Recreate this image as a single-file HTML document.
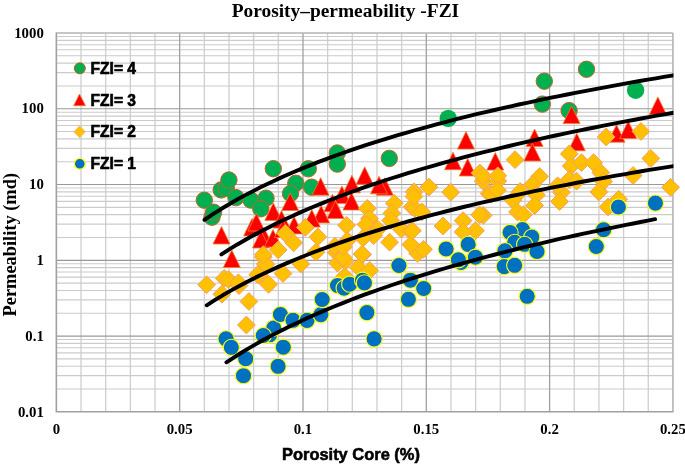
<!DOCTYPE html>
<html><head><meta charset="utf-8"><style>
html,body{margin:0;padding:0;background:#fff;width:685px;height:466px;overflow:hidden}
svg{display:block;will-change:transform}
.tk{font-family:"Liberation Serif",serif;font-weight:bold;font-size:14.8px;fill:#000}
.ttl{font-family:"Liberation Serif",serif;font-weight:bold;font-size:19.4px;fill:#000}
.xt{font-family:"Liberation Sans",sans-serif;font-weight:bold;font-size:16.45px;fill:#000;stroke:#000;stroke-width:0.55px}
.yt{font-family:"Liberation Serif",serif;font-weight:bold;font-size:18.4px;fill:#000}
.lg{font-family:"Liberation Sans",sans-serif;font-weight:bold;font-size:15.6px;fill:#000;stroke:#000;stroke-width:0.6px}
</style></head><body>
<svg width="685" height="466" viewBox="0 0 685 466">
<rect width="685" height="466" fill="#fff"/>
<line x1="81.01" y1="33.00" x2="81.01" y2="411.80" stroke="#cfcfcf" stroke-width="1.3"/>
<line x1="105.68" y1="33.00" x2="105.68" y2="411.80" stroke="#cfcfcf" stroke-width="1.3"/>
<line x1="130.34" y1="33.00" x2="130.34" y2="411.80" stroke="#cfcfcf" stroke-width="1.3"/>
<line x1="155.00" y1="33.00" x2="155.00" y2="411.80" stroke="#cfcfcf" stroke-width="1.3"/>
<line x1="204.33" y1="33.00" x2="204.33" y2="411.80" stroke="#cfcfcf" stroke-width="1.3"/>
<line x1="228.99" y1="33.00" x2="228.99" y2="411.80" stroke="#cfcfcf" stroke-width="1.3"/>
<line x1="253.65" y1="33.00" x2="253.65" y2="411.80" stroke="#cfcfcf" stroke-width="1.3"/>
<line x1="278.32" y1="33.00" x2="278.32" y2="411.80" stroke="#cfcfcf" stroke-width="1.3"/>
<line x1="327.64" y1="33.00" x2="327.64" y2="411.80" stroke="#cfcfcf" stroke-width="1.3"/>
<line x1="352.31" y1="33.00" x2="352.31" y2="411.80" stroke="#cfcfcf" stroke-width="1.3"/>
<line x1="376.97" y1="33.00" x2="376.97" y2="411.80" stroke="#cfcfcf" stroke-width="1.3"/>
<line x1="401.63" y1="33.00" x2="401.63" y2="411.80" stroke="#cfcfcf" stroke-width="1.3"/>
<line x1="450.96" y1="33.00" x2="450.96" y2="411.80" stroke="#cfcfcf" stroke-width="1.3"/>
<line x1="475.62" y1="33.00" x2="475.62" y2="411.80" stroke="#cfcfcf" stroke-width="1.3"/>
<line x1="500.28" y1="33.00" x2="500.28" y2="411.80" stroke="#cfcfcf" stroke-width="1.3"/>
<line x1="524.95" y1="33.00" x2="524.95" y2="411.80" stroke="#cfcfcf" stroke-width="1.3"/>
<line x1="574.27" y1="33.00" x2="574.27" y2="411.80" stroke="#cfcfcf" stroke-width="1.3"/>
<line x1="598.94" y1="33.00" x2="598.94" y2="411.80" stroke="#cfcfcf" stroke-width="1.3"/>
<line x1="623.60" y1="33.00" x2="623.60" y2="411.80" stroke="#cfcfcf" stroke-width="1.3"/>
<line x1="648.26" y1="33.00" x2="648.26" y2="411.80" stroke="#cfcfcf" stroke-width="1.3"/>
<line x1="56.35" y1="388.99" x2="672.93" y2="388.99" stroke="#cbcbcb" stroke-width="1.1"/>
<line x1="56.35" y1="375.65" x2="672.93" y2="375.65" stroke="#cbcbcb" stroke-width="1.1"/>
<line x1="56.35" y1="366.19" x2="672.93" y2="366.19" stroke="#cbcbcb" stroke-width="1.1"/>
<line x1="56.35" y1="358.85" x2="672.93" y2="358.85" stroke="#cbcbcb" stroke-width="1.1"/>
<line x1="56.35" y1="352.85" x2="672.93" y2="352.85" stroke="#cbcbcb" stroke-width="1.1"/>
<line x1="56.35" y1="347.78" x2="672.93" y2="347.78" stroke="#cbcbcb" stroke-width="1.1"/>
<line x1="56.35" y1="343.38" x2="672.93" y2="343.38" stroke="#cbcbcb" stroke-width="1.1"/>
<line x1="56.35" y1="339.51" x2="672.93" y2="339.51" stroke="#cbcbcb" stroke-width="1.1"/>
<line x1="56.35" y1="313.23" x2="672.93" y2="313.23" stroke="#cbcbcb" stroke-width="1.1"/>
<line x1="56.35" y1="299.89" x2="672.93" y2="299.89" stroke="#cbcbcb" stroke-width="1.1"/>
<line x1="56.35" y1="290.43" x2="672.93" y2="290.43" stroke="#cbcbcb" stroke-width="1.1"/>
<line x1="56.35" y1="283.09" x2="672.93" y2="283.09" stroke="#cbcbcb" stroke-width="1.1"/>
<line x1="56.35" y1="277.09" x2="672.93" y2="277.09" stroke="#cbcbcb" stroke-width="1.1"/>
<line x1="56.35" y1="272.02" x2="672.93" y2="272.02" stroke="#cbcbcb" stroke-width="1.1"/>
<line x1="56.35" y1="267.62" x2="672.93" y2="267.62" stroke="#cbcbcb" stroke-width="1.1"/>
<line x1="56.35" y1="263.75" x2="672.93" y2="263.75" stroke="#cbcbcb" stroke-width="1.1"/>
<line x1="56.35" y1="237.47" x2="672.93" y2="237.47" stroke="#cbcbcb" stroke-width="1.1"/>
<line x1="56.35" y1="224.13" x2="672.93" y2="224.13" stroke="#cbcbcb" stroke-width="1.1"/>
<line x1="56.35" y1="214.67" x2="672.93" y2="214.67" stroke="#cbcbcb" stroke-width="1.1"/>
<line x1="56.35" y1="207.33" x2="672.93" y2="207.33" stroke="#cbcbcb" stroke-width="1.1"/>
<line x1="56.35" y1="201.33" x2="672.93" y2="201.33" stroke="#cbcbcb" stroke-width="1.1"/>
<line x1="56.35" y1="196.26" x2="672.93" y2="196.26" stroke="#cbcbcb" stroke-width="1.1"/>
<line x1="56.35" y1="191.86" x2="672.93" y2="191.86" stroke="#cbcbcb" stroke-width="1.1"/>
<line x1="56.35" y1="187.99" x2="672.93" y2="187.99" stroke="#cbcbcb" stroke-width="1.1"/>
<line x1="56.35" y1="161.71" x2="672.93" y2="161.71" stroke="#cbcbcb" stroke-width="1.1"/>
<line x1="56.35" y1="148.37" x2="672.93" y2="148.37" stroke="#cbcbcb" stroke-width="1.1"/>
<line x1="56.35" y1="138.91" x2="672.93" y2="138.91" stroke="#cbcbcb" stroke-width="1.1"/>
<line x1="56.35" y1="131.57" x2="672.93" y2="131.57" stroke="#cbcbcb" stroke-width="1.1"/>
<line x1="56.35" y1="125.57" x2="672.93" y2="125.57" stroke="#cbcbcb" stroke-width="1.1"/>
<line x1="56.35" y1="120.50" x2="672.93" y2="120.50" stroke="#cbcbcb" stroke-width="1.1"/>
<line x1="56.35" y1="116.10" x2="672.93" y2="116.10" stroke="#cbcbcb" stroke-width="1.1"/>
<line x1="56.35" y1="112.23" x2="672.93" y2="112.23" stroke="#cbcbcb" stroke-width="1.1"/>
<line x1="56.35" y1="85.95" x2="672.93" y2="85.95" stroke="#cbcbcb" stroke-width="1.1"/>
<line x1="56.35" y1="72.61" x2="672.93" y2="72.61" stroke="#cbcbcb" stroke-width="1.1"/>
<line x1="56.35" y1="63.15" x2="672.93" y2="63.15" stroke="#cbcbcb" stroke-width="1.1"/>
<line x1="56.35" y1="55.81" x2="672.93" y2="55.81" stroke="#cbcbcb" stroke-width="1.1"/>
<line x1="56.35" y1="49.81" x2="672.93" y2="49.81" stroke="#cbcbcb" stroke-width="1.1"/>
<line x1="56.35" y1="44.74" x2="672.93" y2="44.74" stroke="#cbcbcb" stroke-width="1.1"/>
<line x1="56.35" y1="40.34" x2="672.93" y2="40.34" stroke="#cbcbcb" stroke-width="1.1"/>
<line x1="56.35" y1="36.47" x2="672.93" y2="36.47" stroke="#cbcbcb" stroke-width="1.1"/>
<line x1="56.35" y1="336.04" x2="672.93" y2="336.04" stroke="#999" stroke-width="1.2"/>
<line x1="56.35" y1="260.28" x2="672.93" y2="260.28" stroke="#999" stroke-width="1.2"/>
<line x1="56.35" y1="184.52" x2="672.93" y2="184.52" stroke="#999" stroke-width="1.2"/>
<line x1="56.35" y1="108.76" x2="672.93" y2="108.76" stroke="#999" stroke-width="1.2"/>
<line x1="179.67" y1="33.00" x2="179.67" y2="411.80" stroke="#a0a0a0" stroke-width="1.3"/>
<line x1="302.98" y1="33.00" x2="302.98" y2="411.80" stroke="#a0a0a0" stroke-width="1.3"/>
<line x1="426.30" y1="33.00" x2="426.30" y2="411.80" stroke="#a0a0a0" stroke-width="1.3"/>
<line x1="549.61" y1="33.00" x2="549.61" y2="411.80" stroke="#a0a0a0" stroke-width="1.3"/>
<line x1="672.93" y1="33.00" x2="672.93" y2="411.80" stroke="#b4b4b4" stroke-width="1.6"/>
<line x1="56.35" y1="33.00" x2="672.93" y2="33.00" stroke="#b4b4b4" stroke-width="1.6"/>
<path d="M56.35 32.50V411.80H673.43" fill="none" stroke="#a0a0a0" stroke-width="1.6"/>
<text x="43.8" y="37.70" text-anchor="end" class="tk">1000</text>
<text x="43.8" y="113.46" text-anchor="end" class="tk">100</text>
<text x="43.8" y="189.22" text-anchor="end" class="tk">10</text>
<text x="43.8" y="264.98" text-anchor="end" class="tk">1</text>
<text x="43.8" y="340.74" text-anchor="end" class="tk">0.1</text>
<text x="43.8" y="416.50" text-anchor="end" class="tk">0.01</text>
<text x="56.35" y="433.7" text-anchor="middle" class="tk">0</text>
<text x="179.67" y="433.7" text-anchor="middle" class="tk">0.05</text>
<text x="302.98" y="433.7" text-anchor="middle" class="tk">0.1</text>
<text x="426.30" y="433.7" text-anchor="middle" class="tk">0.15</text>
<text x="549.61" y="433.7" text-anchor="middle" class="tk">0.2</text>
<text x="672.93" y="433.7" text-anchor="middle" class="tk">0.25</text>
<text x="231.7" y="16.6" class="ttl">Porosity–permeability -FZI</text>
<text x="282" y="459.8" class="xt">Porosity Core (%)</text>
<text transform="translate(15.8 316.5) rotate(-90)" x="0" y="0" class="yt">Permeability (md)</text>
<circle cx="79.8" cy="68.3" r="5.5" fill="#00b050" stroke="#c55a11" stroke-width="1"/>
<path d="M79.5 94.1L85.5 105.7L73.7 105.7Z" fill="#ff0000" stroke="#ed7d31" stroke-width="0.8" stroke-linejoin="miter"/>
<path d="M79.6 125.9L85.4 131.8L79.6 137.7L73.8 131.8Z" fill="#ffc000" stroke="#f4b183" stroke-width="0.8"/>
<circle cx="79.8" cy="163.8" r="5.4" fill="#0070c0" stroke="#ffff00" stroke-width="1.2"/>
<text x="90.5" y="73.6" class="lg">FZI= 4</text>
<text x="90.5" y="105.9" class="lg">FZI= 3</text>
<text x="90.5" y="136.9" class="lg">FZI= 2</text>
<text x="90.5" y="168.8" class="lg">FZI= 1</text>
<clipPath id="pc"><rect x="56.6" y="33" width="616.325" height="378.8"/></clipPath>
<g><circle cx="204.3" cy="200.2" r="8.2" fill="#00b050" stroke="#c0642a" stroke-width="1"/><circle cx="212.0" cy="217.2" r="8.2" fill="#00b050" stroke="#c0642a" stroke-width="1"/><circle cx="213.6" cy="212.2" r="8.2" fill="#00b050" stroke="#c0642a" stroke-width="1"/><circle cx="221.2" cy="189.9" r="8.2" fill="#00b050" stroke="#c0642a" stroke-width="1"/><circle cx="226.3" cy="188.4" r="8.2" fill="#00b050" stroke="#c0642a" stroke-width="1"/><circle cx="228.9" cy="180.0" r="8.2" fill="#00b050" stroke="#c0642a" stroke-width="1"/><circle cx="235.9" cy="197.6" r="8.2" fill="#00b050" stroke="#c0642a" stroke-width="1"/><circle cx="250.9" cy="200.1" r="8.2" fill="#00b050" stroke="#c0642a" stroke-width="1"/><circle cx="266.0" cy="198.2" r="8.2" fill="#00b050" stroke="#c0642a" stroke-width="1"/><circle cx="260.8" cy="208.8" r="8.2" fill="#00b050" stroke="#c0642a" stroke-width="1"/><circle cx="273.3" cy="168.7" r="8.2" fill="#00b050" stroke="#c0642a" stroke-width="1"/><circle cx="308.3" cy="168.8" r="8.2" fill="#00b050" stroke="#c0642a" stroke-width="1"/><circle cx="337.3" cy="153.0" r="8.2" fill="#00b050" stroke="#c0642a" stroke-width="1"/><circle cx="337.3" cy="164.1" r="8.2" fill="#00b050" stroke="#c0642a" stroke-width="1"/><circle cx="295.8" cy="183.3" r="8.2" fill="#00b050" stroke="#c0642a" stroke-width="1"/><circle cx="311.6" cy="187.2" r="8.2" fill="#00b050" stroke="#c0642a" stroke-width="1"/><circle cx="290.5" cy="193.5" r="8.2" fill="#00b050" stroke="#c0642a" stroke-width="1"/><circle cx="448.2" cy="118.4" r="8.7" fill="#00b050" stroke="none" stroke-width="0"/><circle cx="544.3" cy="81.2" r="8.2" fill="#00b050" stroke="#c0642a" stroke-width="1"/><circle cx="542.3" cy="104.1" r="8.2" fill="#00b050" stroke="#c0642a" stroke-width="1"/><circle cx="586.5" cy="69.3" r="8.2" fill="#00b050" stroke="#c0642a" stroke-width="1"/><circle cx="635.6" cy="90.2" r="8.7" fill="#00b050" stroke="none" stroke-width="0"/><circle cx="569.1" cy="110.6" r="8.2" fill="#00b050" stroke="#c0642a" stroke-width="1"/><circle cx="389.3" cy="158.4" r="8.2" fill="#00b050" stroke="#c0642a" stroke-width="1"/><path d="M221.5 226.5l8.5 17.5h-17z" fill="#ff0000" stroke="#ed7d31" stroke-width="0.8"/><path d="M252.1 218.4l8.5 17.5h-17z" fill="#ff0000" stroke="#ed7d31" stroke-width="0.8"/><path d="M256.4 213.5l8.5 17.5h-17z" fill="#ff0000" stroke="#ed7d31" stroke-width="0.8"/><path d="M273.3 202.9l8.5 17.5h-17z" fill="#ff0000" stroke="#ed7d31" stroke-width="0.8"/><path d="M290.2 193l8.5 17.5h-17z" fill="#ff0000" stroke="#ed7d31" stroke-width="0.8"/><path d="M281.5 210.6l8.5 17.5h-17z" fill="#ff0000" stroke="#ed7d31" stroke-width="0.8"/><path d="M264.2 228l8.5 17.5h-17z" fill="#ff0000" stroke="#ed7d31" stroke-width="0.8"/><path d="M294.1 216.4l8.5 17.5h-17z" fill="#ff0000" stroke="#ed7d31" stroke-width="0.8"/><path d="M261 230.5l8.5 17.5h-17z" fill="#ff0000" stroke="#ed7d31" stroke-width="0.8"/><path d="M320.6 177.7l8.5 17.5h-17z" fill="#ff0000" stroke="#ed7d31" stroke-width="0.8"/><path d="M364.7 166.8l8.5 17.5h-17z" fill="#ff0000" stroke="#ed7d31" stroke-width="0.8"/><path d="M351.9 175.3l8.5 17.5h-17z" fill="#ff0000" stroke="#ed7d31" stroke-width="0.8"/><path d="M341.9 186l8.5 17.5h-17z" fill="#ff0000" stroke="#ed7d31" stroke-width="0.8"/><path d="M351.5 192.5l8.5 17.5h-17z" fill="#ff0000" stroke="#ed7d31" stroke-width="0.8"/><path d="M332.4 194.2l8.5 17.5h-17z" fill="#ff0000" stroke="#ed7d31" stroke-width="0.8"/><path d="M384.8 177.8l8.5 17.5h-17z" fill="#ff0000" stroke="#ed7d31" stroke-width="0.8"/><path d="M379 176.3l8.5 17.5h-17z" fill="#ff0000" stroke="#ed7d31" stroke-width="0.8"/><path d="M321.2 205.4l8.5 17.5h-17z" fill="#ff0000" stroke="#ed7d31" stroke-width="0.8"/><path d="M311.8 209.6l8.5 17.5h-17z" fill="#ff0000" stroke="#ed7d31" stroke-width="0.8"/><path d="M335.5 201l8.5 17.5h-17z" fill="#ff0000" stroke="#ed7d31" stroke-width="0.8"/><path d="M231.8 250l8.5 17.5h-17z" fill="#ff0000" stroke="#ed7d31" stroke-width="0.8"/><path d="M273 229.5l8.5 17.5h-17z" fill="#ff0000" stroke="#ed7d31" stroke-width="0.8"/><path d="M283 220l8.5 17.5h-17z" fill="#ff0000" stroke="#ed7d31" stroke-width="0.8"/><path d="M466 131.6l8.5 17.5h-17z" fill="#ff0000" stroke="#ed7d31" stroke-width="0.8"/><path d="M534.6 129l8.5 17.5h-17z" fill="#ff0000" stroke="#ed7d31" stroke-width="0.8"/><path d="M571.6 106.1l8.5 17.5h-17z" fill="#ff0000" stroke="#ed7d31" stroke-width="0.8"/><path d="M657.9 96.9l8.5 17.5h-17z" fill="#ff0000" stroke="#ed7d31" stroke-width="0.8"/><path d="M616.5 124.7l8.5 17.5h-17z" fill="#ff0000" stroke="#ed7d31" stroke-width="0.8"/><path d="M628.2 121l8.5 17.5h-17z" fill="#ff0000" stroke="#ed7d31" stroke-width="0.8"/><path d="M576.8 133.3l8.5 17.5h-17z" fill="#ff0000" stroke="#ed7d31" stroke-width="0.8"/><path d="M453 152.2l8.5 17.5h-17z" fill="#ff0000" stroke="#ed7d31" stroke-width="0.8"/><path d="M467.7 158.5l8.5 17.5h-17z" fill="#ff0000" stroke="#ed7d31" stroke-width="0.8"/><path d="M495.3 152.6l8.5 17.5h-17z" fill="#ff0000" stroke="#ed7d31" stroke-width="0.8"/><path d="M532.4 143.5l8.5 17.5h-17z" fill="#ff0000" stroke="#ed7d31" stroke-width="0.8"/><path d="M367.3 199.50l8.9 8.9l-8.9 8.9l-8.9 -8.9z" fill="#ffc000" stroke="#f4a060" stroke-width="1"/><path d="M417.6 244.40l8.9 8.9l-8.9 8.9l-8.9 -8.9z" fill="#ffc000" stroke="#f4a060" stroke-width="1"/><path d="M423.5 240.40l8.9 8.9l-8.9 8.9l-8.9 -8.9z" fill="#ffc000" stroke="#f4a060" stroke-width="1"/><path d="M206.6 275.90l8.9 8.9l-8.9 8.9l-8.9 -8.9z" fill="#ffc000" stroke="#f4a060" stroke-width="1"/><path d="M224.2 269.50l8.9 8.9l-8.9 8.9l-8.9 -8.9z" fill="#ffc000" stroke="#f4a060" stroke-width="1"/><path d="M228.5 270.80l8.9 8.9l-8.9 8.9l-8.9 -8.9z" fill="#ffc000" stroke="#f4a060" stroke-width="1"/><path d="M221.9 285.30l8.9 8.9l-8.9 8.9l-8.9 -8.9z" fill="#ffc000" stroke="#f4a060" stroke-width="1"/><path d="M239 276.70l8.9 8.9l-8.9 8.9l-8.9 -8.9z" fill="#ffc000" stroke="#f4a060" stroke-width="1"/><path d="M248.9 292.60l8.9 8.9l-8.9 8.9l-8.9 -8.9z" fill="#ffc000" stroke="#f4a060" stroke-width="1"/><path d="M259.4 266.30l8.9 8.9l-8.9 8.9l-8.9 -8.9z" fill="#ffc000" stroke="#f4a060" stroke-width="1"/><path d="M268.6 275.40l8.9 8.9l-8.9 8.9l-8.9 -8.9z" fill="#ffc000" stroke="#f4a060" stroke-width="1"/><path d="M265.3 255.10l8.9 8.9l-8.9 8.9l-8.9 -8.9z" fill="#ffc000" stroke="#f4a060" stroke-width="1"/><path d="M283 264.60l8.9 8.9l-8.9 8.9l-8.9 -8.9z" fill="#ffc000" stroke="#f4a060" stroke-width="1"/><path d="M263.3 248.20l8.9 8.9l-8.9 8.9l-8.9 -8.9z" fill="#ffc000" stroke="#f4a060" stroke-width="1"/><path d="M265.9 255.50l8.9 8.9l-8.9 8.9l-8.9 -8.9z" fill="#ffc000" stroke="#f4a060" stroke-width="1"/><path d="M257.7 265.80l8.9 8.9l-8.9 8.9l-8.9 -8.9z" fill="#ffc000" stroke="#f4a060" stroke-width="1"/><path d="M263.3 245.70l8.9 8.9l-8.9 8.9l-8.9 -8.9z" fill="#ffc000" stroke="#f4a060" stroke-width="1"/><path d="M278.2 240.90l8.9 8.9l-8.9 8.9l-8.9 -8.9z" fill="#ffc000" stroke="#f4a060" stroke-width="1"/><path d="M238.4 273.90l8.9 8.9l-8.9 8.9l-8.9 -8.9z" fill="#ffc000" stroke="#f4a060" stroke-width="1"/><path d="M246.4 316.10l8.9 8.9l-8.9 8.9l-8.9 -8.9z" fill="#ffc000" stroke="#f4a060" stroke-width="1"/><path d="M300.8 255.10l8.9 8.9l-8.9 8.9l-8.9 -8.9z" fill="#ffc000" stroke="#f4a060" stroke-width="1"/><path d="M336.2 243.70l8.9 8.9l-8.9 8.9l-8.9 -8.9z" fill="#ffc000" stroke="#f4a060" stroke-width="1"/><path d="M337.5 254.20l8.9 8.9l-8.9 8.9l-8.9 -8.9z" fill="#ffc000" stroke="#f4a060" stroke-width="1"/><path d="M345.4 252.30l8.9 8.9l-8.9 8.9l-8.9 -8.9z" fill="#ffc000" stroke="#f4a060" stroke-width="1"/><path d="M344.7 267.40l8.9 8.9l-8.9 8.9l-8.9 -8.9z" fill="#ffc000" stroke="#f4a060" stroke-width="1"/><path d="M362.5 245.70l8.9 8.9l-8.9 8.9l-8.9 -8.9z" fill="#ffc000" stroke="#f4a060" stroke-width="1"/><path d="M358.5 258.80l8.9 8.9l-8.9 8.9l-8.9 -8.9z" fill="#ffc000" stroke="#f4a060" stroke-width="1"/><path d="M369.7 261.50l8.9 8.9l-8.9 8.9l-8.9 -8.9z" fill="#ffc000" stroke="#f4a060" stroke-width="1"/><path d="M640.9 122.50l8.9 8.9l-8.9 8.9l-8.9 -8.9z" fill="#ffc000" stroke="#f4a060" stroke-width="1"/><path d="M606.2 128.10l8.9 8.9l-8.9 8.9l-8.9 -8.9z" fill="#ffc000" stroke="#f4a060" stroke-width="1"/><path d="M285.3 224.40l8.9 8.9l-8.9 8.9l-8.9 -8.9z" fill="#ffc000" stroke="#f4a060" stroke-width="1"/><path d="M293.6 233.90l8.9 8.9l-8.9 8.9l-8.9 -8.9z" fill="#ffc000" stroke="#f4a060" stroke-width="1"/><path d="M305.4 218.50l8.9 8.9l-8.9 8.9l-8.9 -8.9z" fill="#ffc000" stroke="#f4a060" stroke-width="1"/><path d="M317.8 228.00l8.9 8.9l-8.9 8.9l-8.9 -8.9z" fill="#ffc000" stroke="#f4a060" stroke-width="1"/><path d="M316 243.30l8.9 8.9l-8.9 8.9l-8.9 -8.9z" fill="#ffc000" stroke="#f4a060" stroke-width="1"/><path d="M334.9 237.40l8.9 8.9l-8.9 8.9l-8.9 -8.9z" fill="#ffc000" stroke="#f4a060" stroke-width="1"/><path d="M346.5 216.40l8.9 8.9l-8.9 8.9l-8.9 -8.9z" fill="#ffc000" stroke="#f4a060" stroke-width="1"/><path d="M343 248.60l8.9 8.9l-8.9 8.9l-8.9 -8.9z" fill="#ffc000" stroke="#f4a060" stroke-width="1"/><path d="M347.3 231.50l8.9 8.9l-8.9 8.9l-8.9 -8.9z" fill="#ffc000" stroke="#f4a060" stroke-width="1"/><path d="M369.5 209.70l8.9 8.9l-8.9 8.9l-8.9 -8.9z" fill="#ffc000" stroke="#f4a060" stroke-width="1"/><path d="M366 215.60l8.9 8.9l-8.9 8.9l-8.9 -8.9z" fill="#ffc000" stroke="#f4a060" stroke-width="1"/><path d="M394.3 194.40l8.9 8.9l-8.9 8.9l-8.9 -8.9z" fill="#ffc000" stroke="#f4a060" stroke-width="1"/><path d="M391.9 204.40l8.9 8.9l-8.9 8.9l-8.9 -8.9z" fill="#ffc000" stroke="#f4a060" stroke-width="1"/><path d="M390.7 211.50l8.9 8.9l-8.9 8.9l-8.9 -8.9z" fill="#ffc000" stroke="#f4a060" stroke-width="1"/><path d="M377.8 220.30l8.9 8.9l-8.9 8.9l-8.9 -8.9z" fill="#ffc000" stroke="#f4a060" stroke-width="1"/><path d="M373.6 226.80l8.9 8.9l-8.9 8.9l-8.9 -8.9z" fill="#ffc000" stroke="#f4a060" stroke-width="1"/><path d="M389.6 233.30l8.9 8.9l-8.9 8.9l-8.9 -8.9z" fill="#ffc000" stroke="#f4a060" stroke-width="1"/><path d="M412 197.90l8.9 8.9l-8.9 8.9l-8.9 -8.9z" fill="#ffc000" stroke="#f4a060" stroke-width="1"/><path d="M401.4 220.30l8.9 8.9l-8.9 8.9l-8.9 -8.9z" fill="#ffc000" stroke="#f4a060" stroke-width="1"/><path d="M410.8 222.70l8.9 8.9l-8.9 8.9l-8.9 -8.9z" fill="#ffc000" stroke="#f4a060" stroke-width="1"/><path d="M410.8 235.70l8.9 8.9l-8.9 8.9l-8.9 -8.9z" fill="#ffc000" stroke="#f4a060" stroke-width="1"/><path d="M363.1 229.00l8.9 8.9l-8.9 8.9l-8.9 -8.9z" fill="#ffc000" stroke="#f4a060" stroke-width="1"/><path d="M362.2 245.10l8.9 8.9l-8.9 8.9l-8.9 -8.9z" fill="#ffc000" stroke="#f4a060" stroke-width="1"/><path d="M343.5 238.00l8.9 8.9l-8.9 8.9l-8.9 -8.9z" fill="#ffc000" stroke="#f4a060" stroke-width="1"/><path d="M428.9 178.20l8.9 8.9l-8.9 8.9l-8.9 -8.9z" fill="#ffc000" stroke="#f4a060" stroke-width="1"/><path d="M450.7 183.30l8.9 8.9l-8.9 8.9l-8.9 -8.9z" fill="#ffc000" stroke="#f4a060" stroke-width="1"/><path d="M414.1 182.90l8.9 8.9l-8.9 8.9l-8.9 -8.9z" fill="#ffc000" stroke="#f4a060" stroke-width="1"/><path d="M414.7 199.40l8.9 8.9l-8.9 8.9l-8.9 -8.9z" fill="#ffc000" stroke="#f4a060" stroke-width="1"/><path d="M421.8 203.00l8.9 8.9l-8.9 8.9l-8.9 -8.9z" fill="#ffc000" stroke="#f4a060" stroke-width="1"/><path d="M443 217.10l8.9 8.9l-8.9 8.9l-8.9 -8.9z" fill="#ffc000" stroke="#f4a060" stroke-width="1"/><path d="M463.1 211.80l8.9 8.9l-8.9 8.9l-8.9 -8.9z" fill="#ffc000" stroke="#f4a060" stroke-width="1"/><path d="M483.2 206.50l8.9 8.9l-8.9 8.9l-8.9 -8.9z" fill="#ffc000" stroke="#f4a060" stroke-width="1"/><path d="M479.6 205.90l8.9 8.9l-8.9 8.9l-8.9 -8.9z" fill="#ffc000" stroke="#f4a060" stroke-width="1"/><path d="M475.5 221.80l8.9 8.9l-8.9 8.9l-8.9 -8.9z" fill="#ffc000" stroke="#f4a060" stroke-width="1"/><path d="M463.1 223.00l8.9 8.9l-8.9 8.9l-8.9 -8.9z" fill="#ffc000" stroke="#f4a060" stroke-width="1"/><path d="M412.4 221.80l8.9 8.9l-8.9 8.9l-8.9 -8.9z" fill="#ffc000" stroke="#f4a060" stroke-width="1"/><path d="M489 184.70l8.9 8.9l-8.9 8.9l-8.9 -8.9z" fill="#ffc000" stroke="#f4a060" stroke-width="1"/><path d="M483.2 172.30l8.9 8.9l-8.9 8.9l-8.9 -8.9z" fill="#ffc000" stroke="#f4a060" stroke-width="1"/><path d="M414 187.60l8.9 8.9l-8.9 8.9l-8.9 -8.9z" fill="#ffc000" stroke="#f4a060" stroke-width="1"/><path d="M479.9 164.20l8.9 8.9l-8.9 8.9l-8.9 -8.9z" fill="#ffc000" stroke="#f4a060" stroke-width="1"/><path d="M483 167.30l8.9 8.9l-8.9 8.9l-8.9 -8.9z" fill="#ffc000" stroke="#f4a060" stroke-width="1"/><path d="M497.8 172.10l8.9 8.9l-8.9 8.9l-8.9 -8.9z" fill="#ffc000" stroke="#f4a060" stroke-width="1"/><path d="M497.8 166.90l8.9 8.9l-8.9 8.9l-8.9 -8.9z" fill="#ffc000" stroke="#f4a060" stroke-width="1"/><path d="M491.3 185.30l8.9 8.9l-8.9 8.9l-8.9 -8.9z" fill="#ffc000" stroke="#f4a060" stroke-width="1"/><path d="M497.4 181.30l8.9 8.9l-8.9 8.9l-8.9 -8.9z" fill="#ffc000" stroke="#f4a060" stroke-width="1"/><path d="M520.2 182.60l8.9 8.9l-8.9 8.9l-8.9 -8.9z" fill="#ffc000" stroke="#f4a060" stroke-width="1"/><path d="M515 150.80l8.9 8.9l-8.9 8.9l-8.9 -8.9z" fill="#ffc000" stroke="#f4a060" stroke-width="1"/><path d="M569.3 145.00l8.9 8.9l-8.9 8.9l-8.9 -8.9z" fill="#ffc000" stroke="#f4a060" stroke-width="1"/><path d="M571.2 157.10l8.9 8.9l-8.9 8.9l-8.9 -8.9z" fill="#ffc000" stroke="#f4a060" stroke-width="1"/><path d="M581.5 153.80l8.9 8.9l-8.9 8.9l-8.9 -8.9z" fill="#ffc000" stroke="#f4a060" stroke-width="1"/><path d="M593.6 153.80l8.9 8.9l-8.9 8.9l-8.9 -8.9z" fill="#ffc000" stroke="#f4a060" stroke-width="1"/><path d="M600.8 163.70l8.9 8.9l-8.9 8.9l-8.9 -8.9z" fill="#ffc000" stroke="#f4a060" stroke-width="1"/><path d="M539.7 167.60l8.9 8.9l-8.9 8.9l-8.9 -8.9z" fill="#ffc000" stroke="#f4a060" stroke-width="1"/><path d="M569.3 170.60l8.9 8.9l-8.9 8.9l-8.9 -8.9z" fill="#ffc000" stroke="#f4a060" stroke-width="1"/><path d="M650.8 149.50l8.9 8.9l-8.9 8.9l-8.9 -8.9z" fill="#ffc000" stroke="#f4a060" stroke-width="1"/><path d="M633.1 166.60l8.9 8.9l-8.9 8.9l-8.9 -8.9z" fill="#ffc000" stroke="#f4a060" stroke-width="1"/><path d="M670.6 178.40l8.9 8.9l-8.9 8.9l-8.9 -8.9z" fill="#ffc000" stroke="#f4a060" stroke-width="1"/><path d="M603.5 172.50l8.9 8.9l-8.9 8.9l-8.9 -8.9z" fill="#ffc000" stroke="#f4a060" stroke-width="1"/><path d="M598.9 183.00l8.9 8.9l-8.9 8.9l-8.9 -8.9z" fill="#ffc000" stroke="#f4a060" stroke-width="1"/><path d="M618.7 190.30l8.9 8.9l-8.9 8.9l-8.9 -8.9z" fill="#ffc000" stroke="#f4a060" stroke-width="1"/><path d="M608.1 198.10l8.9 8.9l-8.9 8.9l-8.9 -8.9z" fill="#ffc000" stroke="#f4a060" stroke-width="1"/><path d="M532.6 175.60l8.9 8.9l-8.9 8.9l-8.9 -8.9z" fill="#ffc000" stroke="#f4a060" stroke-width="1"/><path d="M512.9 191.30l8.9 8.9l-8.9 8.9l-8.9 -8.9z" fill="#ffc000" stroke="#f4a060" stroke-width="1"/><path d="M536.5 186.10l8.9 8.9l-8.9 8.9l-8.9 -8.9z" fill="#ffc000" stroke="#f4a060" stroke-width="1"/><path d="M534.6 196.60l8.9 8.9l-8.9 8.9l-8.9 -8.9z" fill="#ffc000" stroke="#f4a060" stroke-width="1"/><path d="M517.5 203.10l8.9 8.9l-8.9 8.9l-8.9 -8.9z" fill="#ffc000" stroke="#f4a060" stroke-width="1"/><path d="M523.4 205.80l8.9 8.9l-8.9 8.9l-8.9 -8.9z" fill="#ffc000" stroke="#f4a060" stroke-width="1"/><path d="M561.5 183.40l8.9 8.9l-8.9 8.9l-8.9 -8.9z" fill="#ffc000" stroke="#f4a060" stroke-width="1"/><path d="M559.5 192.60l8.9 8.9l-8.9 8.9l-8.9 -8.9z" fill="#ffc000" stroke="#f4a060" stroke-width="1"/><path d="M557.6 176.90l8.9 8.9l-8.9 8.9l-8.9 -8.9z" fill="#ffc000" stroke="#f4a060" stroke-width="1"/><path d="M576.6 172.30l8.9 8.9l-8.9 8.9l-8.9 -8.9z" fill="#ffc000" stroke="#f4a060" stroke-width="1"/><circle cx="226" cy="338.8" r="8.1" fill="#0070c0" stroke="#ffff00" stroke-width="1.1"/><circle cx="231.3" cy="347.3" r="8.1" fill="#0070c0" stroke="#ffff00" stroke-width="1.1"/><circle cx="245.7" cy="358.7" r="8.1" fill="#0070c0" stroke="#ffff00" stroke-width="1.1"/><circle cx="269.6" cy="334.8" r="8.1" fill="#0070c0" stroke="#ffff00" stroke-width="1.1"/><circle cx="273.7" cy="328" r="8.1" fill="#0070c0" stroke="#ffff00" stroke-width="1.1"/><circle cx="263.3" cy="335.5" r="8.1" fill="#0070c0" stroke="#ffff00" stroke-width="1.1"/><circle cx="280.4" cy="314.5" r="8.1" fill="#0070c0" stroke="#ffff00" stroke-width="1.1"/><circle cx="293" cy="320.3" r="8.1" fill="#0070c0" stroke="#ffff00" stroke-width="1.1"/><circle cx="307" cy="320.4" r="8.1" fill="#0070c0" stroke="#ffff00" stroke-width="1.1"/><circle cx="283.3" cy="347.2" r="8.1" fill="#0070c0" stroke="#ffff00" stroke-width="1.1"/><circle cx="278.1" cy="366.3" r="8.1" fill="#0070c0" stroke="#ffff00" stroke-width="1.1"/><circle cx="320.9" cy="314.6" r="8.1" fill="#0070c0" stroke="#ffff00" stroke-width="1.1"/><circle cx="322.2" cy="299.5" r="8.1" fill="#0070c0" stroke="#ffff00" stroke-width="1.1"/><circle cx="337.5" cy="285.5" r="8.1" fill="#0070c0" stroke="#ffff00" stroke-width="1.1"/><circle cx="344.1" cy="288.1" r="8.1" fill="#0070c0" stroke="#ffff00" stroke-width="1.1"/><circle cx="349.7" cy="284.2" r="8.1" fill="#0070c0" stroke="#ffff00" stroke-width="1.1"/><circle cx="362.5" cy="280.2" r="8.1" fill="#0070c0" stroke="#ffff00" stroke-width="1.1"/><circle cx="364.4" cy="282.9" r="8.1" fill="#0070c0" stroke="#ffff00" stroke-width="1.1"/><circle cx="398.9" cy="265.5" r="8.1" fill="#0070c0" stroke="#ffff00" stroke-width="1.1"/><circle cx="410.4" cy="280.2" r="8.1" fill="#0070c0" stroke="#ffff00" stroke-width="1.1"/><circle cx="408.4" cy="299.3" r="8.1" fill="#0070c0" stroke="#ffff00" stroke-width="1.1"/><circle cx="366.9" cy="312.6" r="8.1" fill="#0070c0" stroke="#ffff00" stroke-width="1.1"/><circle cx="374.1" cy="338.9" r="8.1" fill="#0070c0" stroke="#ffff00" stroke-width="1.1"/><circle cx="618.4" cy="207" r="8.1" fill="#0070c0" stroke="#ffff00" stroke-width="1.1"/><circle cx="655.4" cy="203.1" r="8.1" fill="#0070c0" stroke="#ffff00" stroke-width="1.1"/><circle cx="603.6" cy="229.7" r="8.1" fill="#0070c0" stroke="#ffff00" stroke-width="1.1"/><circle cx="522.4" cy="229.5" r="8.1" fill="#0070c0" stroke="#ffff00" stroke-width="1.1"/><circle cx="510.1" cy="232.5" r="8.1" fill="#0070c0" stroke="#ffff00" stroke-width="1.1"/><circle cx="531.8" cy="237.1" r="8.1" fill="#0070c0" stroke="#ffff00" stroke-width="1.1"/><circle cx="514.7" cy="242.3" r="8.1" fill="#0070c0" stroke="#ffff00" stroke-width="1.1"/><circle cx="524.6" cy="244.3" r="8.1" fill="#0070c0" stroke="#ffff00" stroke-width="1.1"/><circle cx="504.9" cy="250.9" r="8.1" fill="#0070c0" stroke="#ffff00" stroke-width="1.1"/><circle cx="537" cy="251.5" r="8.1" fill="#0070c0" stroke="#ffff00" stroke-width="1.1"/><circle cx="504.2" cy="266.6" r="8.1" fill="#0070c0" stroke="#ffff00" stroke-width="1.1"/><circle cx="514.7" cy="265.3" r="8.1" fill="#0070c0" stroke="#ffff00" stroke-width="1.1"/><circle cx="446.1" cy="249" r="8.1" fill="#0070c0" stroke="#ffff00" stroke-width="1.1"/><circle cx="468.2" cy="244.4" r="8.1" fill="#0070c0" stroke="#ffff00" stroke-width="1.1"/><circle cx="461" cy="262.5" r="8.1" fill="#0070c0" stroke="#ffff00" stroke-width="1.1"/><circle cx="458.4" cy="259.8" r="8.1" fill="#0070c0" stroke="#ffff00" stroke-width="1.1"/><circle cx="475.4" cy="257.2" r="8.1" fill="#0070c0" stroke="#ffff00" stroke-width="1.1"/><circle cx="423.7" cy="288.5" r="8.1" fill="#0070c0" stroke="#ffff00" stroke-width="1.1"/><circle cx="527.2" cy="296.3" r="8.1" fill="#0070c0" stroke="#ffff00" stroke-width="1.1"/><circle cx="596.3" cy="246.5" r="8.1" fill="#0070c0" stroke="#ffff00" stroke-width="1.1"/><circle cx="243.5" cy="375.7" r="8.1" fill="#0070c0" stroke="#ffff00" stroke-width="1.1"/></g>
<g clip-path="url(#pc2)"><path d="M204.5 219.8 L212.6 214.4 L220.6 209.3 L228.7 204.5 L236.7 199.8 L244.8 195.4 L252.9 191.2 L260.9 187.1 L269.0 183.2 L277.0 179.4 L285.1 175.8 L293.2 172.3 L301.2 168.9 L309.3 165.6 L317.3 162.4 L325.4 159.4 L333.4 156.4 L341.5 153.5 L349.6 150.6 L357.6 147.9 L365.7 145.2 L373.7 142.6 L381.8 140.1 L389.9 137.6 L397.9 135.2 L406.0 132.8 L414.0 130.5 L422.1 128.3 L430.2 126.1 L438.2 123.9 L446.3 121.8 L454.3 119.7 L462.4 117.7 L470.5 115.7 L478.5 113.7 L486.6 111.8 L494.6 110.0 L502.7 108.1 L510.8 106.3 L518.8 104.5 L526.9 102.8 L534.9 101.1 L543.0 99.4 L551.1 97.7 L559.1 96.1 L567.2 94.5 L575.2 92.9 L583.3 91.3 L591.3 89.8 L599.4 88.3 L607.5 86.8 L615.5 85.3 L623.6 83.9 L631.6 82.4 L639.7 81.0 L647.8 79.6 L655.8 78.3 L663.9 76.9 L671.9 75.6 L680.0 74.3" fill="none" stroke="#000" stroke-width="3.9" stroke-linecap="round" stroke-linejoin="round"/><path d="M221.4 254.4 L229.2 249.4 L236.9 244.7 L244.7 240.2 L252.5 235.8 L260.3 231.7 L268.0 227.7 L275.8 223.8 L283.6 220.0 L291.4 216.4 L299.1 212.9 L306.9 209.5 L314.7 206.3 L322.4 203.1 L330.2 200.0 L338.0 197.0 L345.8 194.1 L353.5 191.2 L361.3 188.4 L369.1 185.7 L376.9 183.1 L384.6 180.5 L392.4 178.0 L400.2 175.6 L407.9 173.2 L415.7 170.8 L423.5 168.5 L431.3 166.3 L439.0 164.1 L446.8 161.9 L454.6 159.8 L462.4 157.7 L470.1 155.7 L477.9 153.7 L485.7 151.7 L493.5 149.8 L501.2 147.9 L509.0 146.0 L516.8 144.2 L524.5 142.4 L532.3 140.6 L540.1 138.9 L547.9 137.2 L555.6 135.5 L563.4 133.9 L571.2 132.2 L579.0 130.6 L586.7 129.0 L594.5 127.5 L602.3 125.9 L610.0 124.4 L617.8 122.9 L625.6 121.4 L633.4 120.0 L641.1 118.5 L648.9 117.1 L656.7 115.7 L664.5 114.3 L672.2 113.0 L680.0 111.6" fill="none" stroke="#000" stroke-width="3.9" stroke-linecap="round" stroke-linejoin="round"/><path d="M206.7 305.3 L214.7 300.2 L222.7 295.3 L230.8 290.6 L238.8 286.2 L246.8 282.0 L254.8 277.9 L262.9 274.0 L270.9 270.2 L278.9 266.6 L286.9 263.1 L294.9 259.7 L303.0 256.5 L311.0 253.3 L319.0 250.2 L327.0 247.3 L335.1 244.4 L343.1 241.6 L351.1 238.9 L359.1 236.2 L367.1 233.7 L375.2 231.1 L383.2 228.7 L391.2 226.3 L399.2 224.0 L407.3 221.7 L415.3 219.5 L423.3 217.3 L431.3 215.1 L439.3 213.1 L447.4 211.0 L455.4 209.0 L463.4 207.0 L471.4 205.1 L479.4 203.2 L487.5 201.4 L495.5 199.6 L503.5 197.8 L511.5 196.0 L519.6 194.3 L527.6 192.6 L535.6 190.9 L543.6 189.3 L551.6 187.7 L559.7 186.1 L567.7 184.6 L575.7 183.0 L583.7 181.5 L591.8 180.0 L599.8 178.6 L607.8 177.1 L615.8 175.7 L623.8 174.3 L631.9 172.9 L639.9 171.5 L647.9 170.2 L655.9 168.9 L664.0 167.6 L672.0 166.3 L680.0 165.0" fill="none" stroke="#000" stroke-width="3.9" stroke-linecap="round" stroke-linejoin="round"/><path d="M226.4 362.3 L233.7 357.6 L240.9 353.0 L248.2 348.6 L255.5 344.4 L262.7 340.3 L270.0 336.4 L277.3 332.6 L284.5 328.9 L291.8 325.3 L299.1 321.9 L306.3 318.5 L313.6 315.2 L320.9 312.1 L328.1 309.0 L335.4 306.0 L342.7 303.1 L349.9 300.2 L357.2 297.4 L364.5 294.7 L371.7 292.1 L379.0 289.5 L386.3 287.0 L393.5 284.5 L400.8 282.1 L408.1 279.7 L415.3 277.4 L422.6 275.1 L429.9 272.9 L437.1 270.7 L444.4 268.5 L451.6 266.4 L458.9 264.3 L466.2 262.3 L473.4 260.3 L480.7 258.4 L488.0 256.4 L495.2 254.5 L502.5 252.7 L509.8 250.8 L517.0 249.0 L524.3 247.2 L531.6 245.5 L538.8 243.8 L546.1 242.1 L553.4 240.4 L560.6 238.7 L567.9 237.1 L575.2 235.5 L582.4 233.9 L589.7 232.4 L597.0 230.8 L604.2 229.3 L611.5 227.8 L618.8 226.3 L626.0 224.9 L633.3 223.5 L640.6 222.0 L647.8 220.6 L655.1 219.2" fill="none" stroke="#000" stroke-width="3.9" stroke-linecap="round" stroke-linejoin="round"/></g>
<clipPath id="pc2"><rect x="0" y="0" width="673.4250000000001" height="466"/></clipPath>
</svg>
</body></html>
